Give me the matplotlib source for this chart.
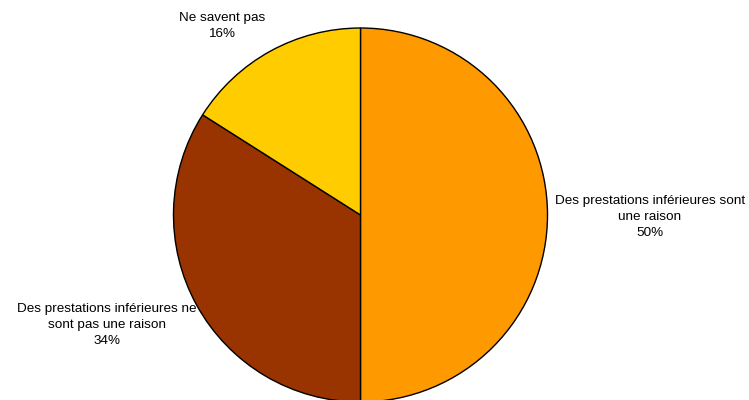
import matplotlib.pyplot as plt

plt.rcParams["font.family"] = ["Liberation Sans", "DejaVu Sans"]

# ----- Data -----
labels = ["Des prestations inférieures sont\nune raison",
          "Des prestations inférieures ne\nsont pas une raison",
          "Ne savent pas"]
values = [50, 34, 16]
colors = ["#FF9900", "#993300", "#FFCC00"]

# label anchor points in pixel space (x, y from top)
label_pos = [(650, 217), (107, 325), (222, 26)]

# ----- Plot -----
fig = plt.figure(figsize=(7.49, 4.0), dpi=100)
ax = fig.add_axes([0, 0, 1, 1])

ax.pie(values, colors=colors, startangle=90, counterclock=False,
       center=(360.5, 400 - 215), radius=187, frame=True,
       wedgeprops=dict(edgecolor="black", linewidth=1.0))
ax.set_xlim(0, 749)
ax.set_ylim(0, 400)
ax.set_aspect("equal")
ax.axis("off")

for lab, val, (x, y) in zip(labels, values, label_pos):
    ax.text(x, 400 - y, f"{lab}\n{val}%", ha="center", va="center",
            fontsize=9.7, linespacing=1.45)

fig.savefig("out.png", dpi=100)
